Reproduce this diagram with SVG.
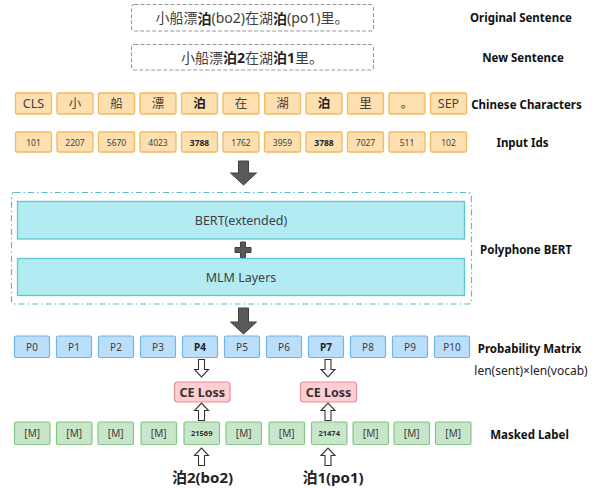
<svg xmlns="http://www.w3.org/2000/svg" width="607" height="488" viewBox="0 0 607 488">
<style>
text{font-family:'Noto Sans','Noto Sans CJK SC',sans-serif;text-anchor:middle;dominant-baseline:central;fill:#404040}
.lbl{font-weight:bold;font-size:11.5px;fill:#111}
.sent{fill:#fff;stroke:#9a9a9a;stroke-width:1.1;stroke-dasharray:4 2}
.ch rect{fill:#FEE0B0;stroke:#F4B860;stroke-width:1.3}
.ch text{font-size:12.5px}
.id rect{fill:#FEE0B0;stroke:#F4B860;stroke-width:1.3}
.id text{font-size:8.5px}
.bert{fill:#B2EBF2;stroke:#5CC6D2;stroke-width:1.3}
.bert-t{font-size:12.5px}
.pm rect{fill:#BBDEFB;stroke:#74B3E6;stroke-width:1.2}
.pm text{font-size:10px}
.ml rect{fill:#C8E6C9;stroke:#83C686;stroke-width:1.2}
.ml text{font-size:10px}
.ml text.num{font-size:7.5px;font-weight:bold;fill:#333}
.ce rect{fill:#FFCDD2;stroke:#E58F97;stroke-width:1.2}
.ce text{font-size:12.5px;font-weight:bold;fill:#333}
.big{fill:#595959;stroke:#404040;stroke-width:1}
.hol{fill:#fff;stroke:#333;stroke-width:1.1}
.b{font-weight:bold;fill:#222}
</style>

<g id="original-sentence">
<rect class="sent" x="131.5" y="4.5" width="242" height="26.5" rx="3"/>
<text x="252" y="17.5" font-size="14">小船漂<tspan class="b">泊</tspan>(bo2)在湖<tspan class="b">泊</tspan>(po1)里。</text>
</g>
<g id="new-sentence">
<rect class="sent" x="131.5" y="44.5" width="242" height="25.5" rx="3"/>
<text x="252" y="57" font-size="14">小船漂<tspan class="b">泊2</tspan>在湖<tspan class="b">泊1</tspan>里。</text>
</g>

<g id="labels">
<text class="lbl" x="521" y="17">Original Sentence</text>
<text class="lbl" x="523" y="57">New Sentence</text>
<text class="lbl" x="526.5" y="104">Chinese Characters</text>
<text class="lbl" x="522.5" y="142">Input Ids</text>
<text class="lbl" x="526" y="249">Polyphone BERT</text>
<text class="lbl" x="529.5" y="348">Probability Matrix</text>
<text x="531" y="370" font-size="12" style="fill:#222">len(sent)×len(vocab)</text>
<text class="lbl" x="529.5" y="434">Masked Label</text>
</g>

<g id="chinese-characters" class="ch">
<rect x="15.5" y="93" width="36" height="21" rx="1.5"/><text x="33.5" y="103.5">CLS</text>
<rect x="57" y="93" width="36" height="21" rx="1.5"/><text x="75" y="103.5">小</text>
<rect x="98.5" y="93" width="36" height="21" rx="1.5"/><text x="116.5" y="103.5">船</text>
<rect x="140" y="93" width="36" height="21" rx="1.5"/><text x="158" y="103.5">漂</text>
<rect x="181.5" y="93" width="36" height="21" rx="1.5"/><text x="199.5" y="103.5" class="b">泊</text>
<rect x="223" y="93" width="36" height="21" rx="1.5"/><text x="241" y="103.5">在</text>
<rect x="264.5" y="93" width="36" height="21" rx="1.5"/><text x="282.5" y="103.5">湖</text>
<rect x="306" y="93" width="36" height="21" rx="1.5"/><text x="324" y="103.5" class="b">泊</text>
<rect x="347.5" y="93" width="36" height="21" rx="1.5"/><text x="365.5" y="103.5">里</text>
<rect x="389" y="93" width="36" height="21" rx="1.5"/><text x="407" y="103.5">。</text>
<rect x="430.5" y="93" width="36" height="21" rx="1.5"/><text x="448.5" y="103.5">SEP</text>
</g>

<g id="input-ids" class="id">
<rect x="15.5" y="132" width="36" height="20" rx="1.5"/><text x="33.5" y="142">101</text>
<rect x="57" y="132" width="36" height="20" rx="1.5"/><text x="75" y="142">2207</text>
<rect x="98.5" y="132" width="36" height="20" rx="1.5"/><text x="116.5" y="142">5670</text>
<rect x="140" y="132" width="36" height="20" rx="1.5"/><text x="158" y="142">4023</text>
<rect x="181.5" y="132" width="36" height="20" rx="1.5"/><text x="199.5" y="142" class="b">3788</text>
<rect x="223" y="132" width="36" height="20" rx="1.5"/><text x="241" y="142">1762</text>
<rect x="264.5" y="132" width="36" height="20" rx="1.5"/><text x="282.5" y="142">3959</text>
<rect x="306" y="132" width="36" height="20" rx="1.5"/><text x="324" y="142" class="b">3788</text>
<rect x="347.5" y="132" width="36" height="20" rx="1.5"/><text x="365.5" y="142">7027</text>
<rect x="389" y="132" width="36" height="20" rx="1.5"/><text x="407" y="142">511</text>
<rect x="430.5" y="132" width="36" height="20" rx="1.5"/><text x="448.5" y="142">102</text>
</g>

<g id="polyphone-bert">
<rect x="11.5" y="192.5" width="460" height="111.5" rx="3" fill="none" stroke="#5DBCC7" stroke-width="1.2" stroke-dasharray="6 3 1.5 3"/>
<g id="bert-extended">
<rect class="bert" x="17.5" y="201.5" width="447" height="37.5"/>
<text class="bert-t" x="241" y="220">BERT(extended)</text>
</g>
<path id="plus" class="big" d="M240.5,242 h5 v5.5 h5.5 v5 h-5.5 v5 h-5 v-5 h-5.5 v-5 h5.5 z"/>
<g id="mlm-layers">
<rect class="bert" x="17.5" y="258.5" width="447" height="37"/>
<text class="bert-t" x="241" y="277">MLM Layers</text>
</g>
</g>

<g id="probability-matrix" class="pm">
<rect x="14.5" y="336" width="35" height="21.5" rx="1.5"/><text x="32" y="346.8">P0</text>
<rect x="56.5" y="336" width="35" height="21.5" rx="1.5"/><text x="74" y="346.8">P1</text>
<rect x="98.5" y="336" width="35" height="21.5" rx="1.5"/><text x="116" y="346.8">P2</text>
<rect x="140.5" y="336" width="35" height="21.5" rx="1.5"/><text x="158" y="346.8">P3</text>
<rect x="182.5" y="336" width="35" height="21.5" rx="1.5"/><text x="200" y="346.8" class="b">P4</text>
<rect x="224.5" y="336" width="35" height="21.5" rx="1.5"/><text x="242" y="346.8">P5</text>
<rect x="266.5" y="336" width="35" height="21.5" rx="1.5"/><text x="284" y="346.8">P6</text>
<rect x="308.5" y="336" width="35" height="21.5" rx="1.5"/><text x="326" y="346.8" class="b">P7</text>
<rect x="350.5" y="336" width="35" height="21.5" rx="1.5"/><text x="368" y="346.8">P8</text>
<rect x="392.5" y="336" width="35" height="21.5" rx="1.5"/><text x="410" y="346.8">P9</text>
<rect x="434.5" y="336" width="35" height="21.5" rx="1.5"/><text x="452" y="346.8">P10</text>
</g>

<g id="ce-loss-1" class="ce">
<rect x="174.5" y="382" width="55.5" height="20" rx="3"/><text x="202.2" y="392">CE Loss</text>
</g>
<g id="ce-loss-2" class="ce">
<rect x="300.5" y="382" width="56" height="20" rx="3"/><text x="328.5" y="392">CE Loss</text>
</g>

<g id="masked-label" class="ml">
<rect x="14.5" y="422" width="35.5" height="22.5" rx="1.5"/><text x="32.2" y="433">[M]</text>
<rect x="56.5" y="422" width="35.5" height="22.5" rx="1.5"/><text x="74.2" y="433">[M]</text>
<rect x="98" y="422" width="35.5" height="22.5" rx="1.5"/><text x="115.7" y="433">[M]</text>
<rect x="141" y="422" width="35.5" height="22.5" rx="1.5"/><text x="158.7" y="433">[M]</text>
<rect x="184" y="422" width="35.5" height="22.5" rx="1.5"/><text x="201.7" y="433" class="num">21569</text>
<rect x="226" y="422" width="35.5" height="22.5" rx="1.5"/><text x="243.7" y="433">[M]</text>
<rect x="269" y="422" width="35.5" height="22.5" rx="1.5"/><text x="286.7" y="433">[M]</text>
<rect x="311.5" y="422" width="35.5" height="22.5" rx="1.5"/><text x="329.2" y="433" class="num">21474</text>
<rect x="353" y="422" width="35.5" height="22.5" rx="1.5"/><text x="370.7" y="433">[M]</text>
<rect x="394" y="422" width="35.5" height="22.5" rx="1.5"/><text x="411.7" y="433">[M]</text>
<rect x="435.5" y="422" width="35.5" height="22.5" rx="1.5"/><text x="453.2" y="433">[M]</text>
</g>

<g id="targets">
<text x="202.5" y="477" font-size="15" class="b" style="fill:#222">泊2(bo2)</text>
<text x="333" y="477" font-size="15" class="b" style="fill:#222">泊1(po1)</text>
</g>

<g id="connectors">
<path class="big" d="M238.5,161 h10 v12 h8 l-13,12 l-13,-12 h8 z"/>
<path class="big" d="M238.5,308 h10 v14 h8 l-13,12 l-13,-12 h8 z"/>
<path class="hol" d="M198.5,359.5 h6 v10 h4 l-7,7.5 l-7,-7.5 h4 z"/>
<path class="hol" d="M325,359.5 h6 v10 h4 l-7,7.5 l-7,-7.5 h4 z"/>
<path class="hol" d="M198.5,420.5 h6 v-10 h4 l-7,-7.5 l-7,7.5 h4 z"/>
<path class="hol" d="M325,420.5 h6 v-10 h4 l-7,-7.5 l-7,7.5 h4 z"/>
<path class="hol" d="M198.5,465.5 h6 v-10 h4 l-7,-7.5 l-7,7.5 h4 z"/>
<path class="hol" d="M325,465.5 h6 v-10 h4 l-7,-7.5 l-7,7.5 h4 z"/>
</g>
</svg>
